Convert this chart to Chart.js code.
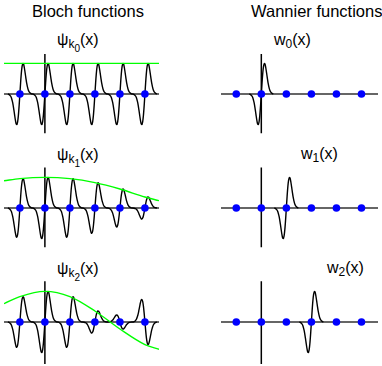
<!DOCTYPE html>
<html>
<head>
<meta charset="utf-8">
<script src="https://cdn.jsdelivr.net/npm/chart.js@4.4.1/dist/chart.umd.min.js"></script>
<style>
  body { margin: 0; background: #fff; width: 382px; height: 366px; overflow: hidden; position: relative;
         font-family: "Liberation Sans", Arial, sans-serif; color: #000; }
  canvas { position: absolute; }
  .title { position: absolute; font-size: 16.5px; line-height: 16px; white-space: nowrap; }
  .lab { position: absolute; font-size: 16px; line-height: 16px; white-space: nowrap; }
  .s1 { position: relative; top: 3px; font-size: 12px; }
  .s2 { position: relative; top: 4px; font-size: 10px; }
</style>
</head>
<body>
<div class="title" style="left:32px;top:3px">Bloch functions</div>
<div class="title" style="left:251px;top:3px">Wannier functions</div>
<div id="labels"></div>
<script>
// lattice sites (in lattice constants)
const sites = [-1, 0, 1, 2, 3, 4];

// one localized orbital, sampled around its site
const shapeOffsets = [-0.48, -0.43, -0.38, -0.34, -0.30, -0.27, -0.24, -0.21, -0.18, -0.15, -0.12, -0.09, -0.06, -0.03, 0,
                      0.03, 0.06, 0.09, 0.12, 0.15, 0.18, 0.21, 0.24, 0.27, 0.30, 0.34, 0.38, 0.43, 0.48];
const shapeValues = [0, -0.02, -0.06, -0.12, -0.24, -0.36, -0.52, -0.69, -0.85, -0.97, -1.0, -0.91, -0.70, -0.38, 0,
                     0.38, 0.70, 0.91, 1.0, 0.97, 0.85, 0.69, 0.52, 0.36, 0.24, 0.12, 0.06, 0.02, 0];

// weight of each site in the Bloch functions
const weightsK0 = [1, 1, 1, 1, 1, 1];
const weightsK1 = [0.96, 1, 0.96, 0.83, 0.62, 0.36];
const weightsK2 = [0.83, 1, 0.83, 0.36, -0.23, -0.74];

// green envelopes
const envelopeX = [-1.635, -1, 0, 1, 2, 3, 4, 4.563];
const envelopeK0 = [1, 1, 1, 1, 1, 1, 1, 1];
const envelopeK1 = [0.89, 0.96, 1, 0.96, 0.83, 0.62, 0.36, 0.24];
const envelopeK2 = [0.6, 0.83, 1, 0.83, 0.36, -0.23, -0.74, -0.89];

// site that each Wannier function sits on
const wannierSites = [0, 1, 2];
const indexLabels = ["0", "1", "2"];

const rows = [
  { top: 48, axTop: 1.31, axBot: -1.28 },
  { top: 162, axTop: 1.32, axBot: -1.28 },
  { top: 276, axTop: 1.33, axBot: -1.45 }
];
const leftPanel = { left: 0, width: 163, xMin: -1.635, xMax: 4.563 };
const rightPanel = { left: 217, width: 165, xMin: -1.61, xMax: 4.66 };

function orbitalCurve(sitesList, weights) {
  const pts = [];
  sitesList.forEach((s, i) => {
    shapeOffsets.forEach((o, j) => pts.push({ x: s + o, y: weights[i] * shapeValues[j] }));
  });
  return pts;
}

function makePanel(panel, row, curve, envelope) {
  const c = document.createElement("canvas");
  c.width = panel.width;
  c.height = 92;
  c.style.left = panel.left + "px";
  c.style.top = row.top + "px";
  document.body.appendChild(c);

  const datasets = [
    { data: [{ x: panel.xMin, y: 0 }, { x: panel.xMax, y: 0 }], borderColor: "#333", borderWidth: 1.6, order: 4 },
    { data: [{ x: 0, y: row.axTop }, { x: 0, y: row.axBot }], borderColor: "#000", borderWidth: 1.5, order: 3 },
    { data: curve, borderColor: "#000", borderWidth: 1.4, cubicInterpolationMode: "monotone", order: 2 }
  ];
  if (envelope) {
    datasets.push({
      data: envelopeX.map((x, i) => ({ x: x, y: envelope[i] })),
      borderColor: "#00ff00", borderWidth: 1.4, cubicInterpolationMode: "monotone", order: 1
    });
  }
  datasets.push({
    data: sites.map(s => ({ x: s, y: 0 })),
    showLine: false, pointRadius: 3.8, pointBackgroundColor: "#0000ff", pointBorderWidth: 0, order: 0
  });

  new Chart(c, {
    type: "line",
    data: { datasets: datasets },
    options: {
      responsive: false,
      animation: false,
      devicePixelRatio: 1,
      layout: { padding: 0 },
      elements: { point: { radius: 0 } },
      plugins: { legend: { display: false }, tooltip: { enabled: false } },
      scales: {
        x: { type: "linear", display: false, min: panel.xMin, max: panel.xMax },
        y: { display: false, min: -1.373, max: 1.373 }
      }
    }
  });
}

const weights = [weightsK0, weightsK1, weightsK2];
const envelopes = [envelopeK0, envelopeK1, envelopeK2];
rows.forEach((row, i) => {
  makePanel(leftPanel, row, orbitalCurve(sites, weights[i]), envelopes[i]);
  makePanel(rightPanel, row, orbitalCurve([wannierSites[i]], [1]), null);
});

// function labels
const labelPos = [
  { bx: 57, by: 32, wx: 274, wy: 32 },
  { bx: 57, by: 147, wx: 301, wy: 146 },
  { bx: 57, by: 261, wx: 327, wy: 260 }
];
const holder = document.getElementById("labels");
indexLabels.forEach((n, i) => {
  const p = labelPos[i];
  holder.innerHTML +=
    `<div class="lab" style="left:${p.bx}px;top:${p.by}px">ψ<span class="s1">k<span class="s2">${n}</span></span>(x)</div>` +
    `<div class="lab" style="left:${p.wx}px;top:${p.wy}px">w<span class="s1">${n}</span>(x)</div>`;
});
</script>
</body>
</html>
